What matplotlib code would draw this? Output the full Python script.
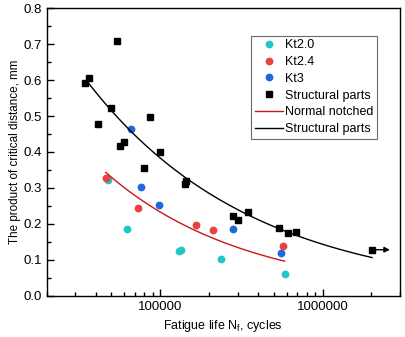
import matplotlib
matplotlib.use('Agg')
import matplotlib.pyplot as plt
import matplotlib.ticker as mticker
import numpy as np

plt.rcParams['font.family'] = ['Liberation Sans', 'DejaVu Sans']
plt.rcParams['font.size'] = 9

# Kt2.0
kt20_x = [47500, 62800, 130800, 134600, 238400, 584000]
kt20_y = [0.322, 0.186, 0.125, 0.126, 0.103, 0.060]
# Kt2.4
kt24_x = [46200, 72600, 165700, 210000, 570000]
kt24_y = [0.327, 0.243, 0.198, 0.182, 0.138]
# Kt3
kt3_x = [65800, 76100, 97800, 281400, 556000]
kt3_y = [0.465, 0.303, 0.252, 0.186, 0.120]
# Structural parts
sp_x = [34400, 36600, 53950, 41200, 49550, 86100, 56800, 59870, 99600, 79400,
        141200, 145200, 281400, 301500, 347600, 538600, 615000, 682000, 2020000]
sp_y = [0.592, 0.607, 0.708, 0.479, 0.522, 0.497, 0.417, 0.427, 0.400, 0.356,
        0.312, 0.318, 0.222, 0.210, 0.234, 0.188, 0.174, 0.178, 0.128]

# power-law fits y = a * x^b
notched_a, notched_b, notched_range = 75.4, -0.502, (46200, 584000)
parts_a, parts_b, parts_range = 52.6, -0.4275, (35800, 2020000)

fig = plt.figure(figsize=(4.05, 3.37), dpi=100)
ax = fig.add_axes([0.1153, 0.1226, 0.8724, 0.8528])

ax.plot(kt20_x, kt20_y, 'o', color='#22C7C3', markersize=4.6, label='Kt2.0')
ax.plot(kt24_x, kt24_y, 'o', color='#E8413F', markersize=4.6, label='Kt2.4')
ax.plot(kt3_x, kt3_y, 'o', color='#1E68DA', markersize=4.6, label='Kt3')
ax.plot(sp_x, sp_y, 's', color='black', markersize=4.4, label='Structural parts')

xn = np.logspace(np.log10(notched_range[0]), np.log10(notched_range[1]), 100)
ax.plot(xn, notched_a * xn ** notched_b, color='#C81818', lw=1.0, label='Normal notched')
xp = np.logspace(np.log10(parts_range[0]), np.log10(parts_range[1]), 100)
ax.plot(xp, parts_a * xp ** parts_b, color='black', lw=1.0, label='Structural parts')

# run-out arrow
ax.annotate('', xy=(2.6e6, sp_y[-1]), xytext=(sp_x[-1], sp_y[-1]),
            arrowprops=dict(arrowstyle='-|>', color='black', lw=1.0,
                            mutation_scale=8, shrinkA=0, shrinkB=0))

ax.set_xscale('log')
ax.set_xlim(2e4, 3e6)
ax.set_ylim(0, 0.8)
ax.xaxis.set_major_locator(mticker.FixedLocator([1e5, 1e6]))
ax.xaxis.set_major_formatter(mticker.FuncFormatter(lambda v, p: '%d' % v))
ax.xaxis.set_minor_locator(mticker.LogLocator(base=10, subs=np.arange(2, 10)))
ax.xaxis.set_minor_formatter(mticker.NullFormatter())
ax.yaxis.set_major_locator(mticker.MultipleLocator(0.1))
ax.yaxis.set_minor_locator(mticker.MultipleLocator(0.05))
ax.yaxis.set_major_formatter(mticker.FormatStrFormatter('%.1f'))
ax.tick_params(which='both', direction='in', top=False, right=False, labelsize=9.5)
ax.tick_params(which='major', length=5, width=1)
ax.tick_params(which='minor', length=3, width=1)
for s in ax.spines.values():
    s.set_linewidth(1.0)

ax.set_xlabel('Fatigue life N$_\\mathregular{f}$, cycles', fontsize=9)
ax.set_ylabel('The product of critical distance, mm', fontsize=8.4, labelpad=2)

leg = ax.legend(loc='upper left', bbox_to_anchor=(0.579, 0.905), frameon=True,
                fancybox=False, edgecolor='#444444', fontsize=9,
                handlelength=2.2, handletextpad=0.2, borderpad=0.3,
                labelspacing=0.38, borderaxespad=0)
leg.get_frame().set_linewidth(0.8)

fig.savefig('out.png', dpi=100)
